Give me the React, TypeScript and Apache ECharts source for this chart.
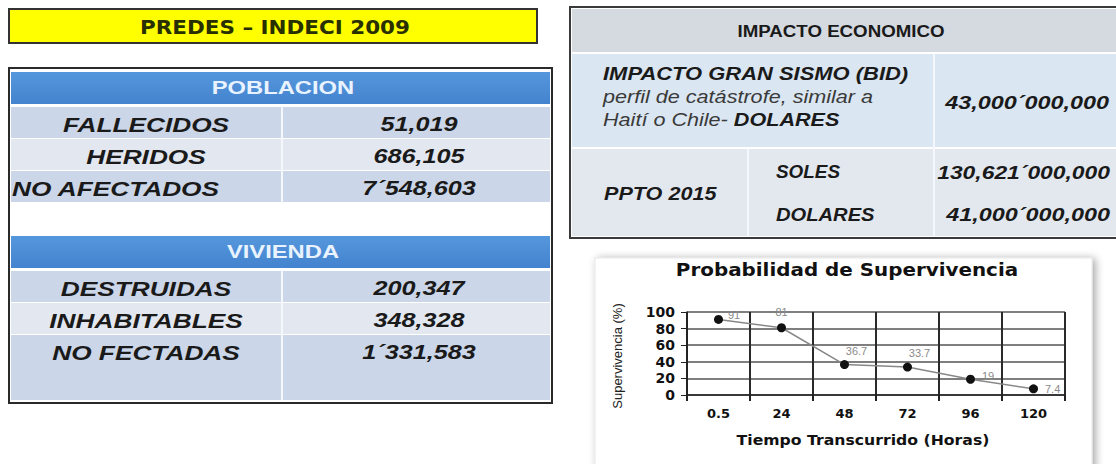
import React, { useEffect, useRef } from "react";
import * as echarts from "echarts";

const mainTitle = "PREDES – INDECI 2009";
const poblacionHeader = "POBLACION";
const poblacionLabels = ["FALLECIDOS", "HERIDOS", "NO AFECTADOS"];
const poblacionValues = ["51,019", "686,105", "7´548,603"];
const viviendaHeader = "VIVIENDA";
const viviendaLabels = ["DESTRUIDAS", "INHABITABLES", "NO FECTADAS"];
const viviendaValues = ["200,347", "348,328", "1´331,583"];

const econHeader = "IMPACTO ECONOMICO";
const econRow1Lines = ["IMPACTO GRAN SISMO (BID)", "perfil de catástrofe, similar a", "Haití o Chile- ", "DOLARES"];
const econRow1Value = "43,000´000,000";
const pptoLabel = "PPTO 2015";
const pptoCurrencies = ["SOLES", "DOLARES"];
const pptoValues = ["130,621´000,000", "41,000´000,000"];

const chartTitle = "Probabilidad de Supervivencia";
const yAxisName = "Supervivencia (%)";
const xAxisName = "Tiempo Transcurrido (Horas)";
const hours = ["0.5", "24", "48", "72", "96", "120"];
const survival = [91, 81, 36.7, 33.7, 19, 7.4];

const ARIAL = "'Liberation Sans', Arial, sans-serif";
const DEJAVU = "'DejaVu Sans', Verdana, sans-serif";

function txt(text: string, x: number, y: number, opts: any = {}) {
  return {
    type: "text",
    x,
    y,
    scaleX: opts.scaleX ?? 1,
    rotation: opts.rotation ?? 0,
    z: 10,
    style: {
      text,
      fill: opts.fill ?? "#1a1a1a",
      fontSize: opts.fontSize ?? 20,
      fontWeight: opts.fontWeight ?? "bold",
      fontStyle: opts.fontStyle ?? "normal",
      fontFamily: opts.fontFamily ?? ARIAL,
      align: opts.align ?? "center",
      verticalAlign: "middle",
    },
  };
}

function rect(x: number, y: number, w: number, h: number, style: any, z = 1) {
  return { type: "rect", shape: { x, y, width: w, height: h }, style, z };
}

function line(x1: number, y1: number, x2: number, y2: number, stroke: string, lw: number, z = 3) {
  return { type: "line", shape: { x1, y1, x2, y2 }, style: { stroke, lineWidth: lw }, z };
}

export default function App() {
  const ref = useRef<HTMLDivElement>(null);

  useEffect(() => {
    if (!ref.current) return;
    const chart = echarts.init(ref.current, null, { renderer: "svg" });

    const dark = "#cbd6e8";
    const light = "#e3e8f0";
    const blue = {
      type: "linear", x: 0, y: 0, x2: 0, y2: 1,
      colorStops: [{ offset: 0, color: "#5597dc" }, { offset: 1, color: "#4383cf" }],
    };
    const g: any[] = [];

    // Yellow title
    g.push(rect(9, 9, 528, 34, { fill: "#ffff00", stroke: "#333", lineWidth: 2 }));
    g.push(txt(mainTitle, 275, 27, { fontFamily: DEJAVU, fontSize: 19, fill: "#283000", scaleX: 1.13 }));

    // Left table
    g.push(rect(9, 68, 543, 335, { fill: "#ffffff", stroke: "#2a2a2a", lineWidth: 2 }));
    const labelStyle = { fontSize: 21, fontStyle: "italic", scaleX: 1.25 };
    const valueStyle = { fontSize: 21, fontStyle: "italic", scaleX: 1.2 };
    const drawSection = (header: string, labels: string[], values: string[], top: number, lastExtra: number) => {
      g.push(rect(11, top, 539, 32, { fill: blue }));
      g.push(txt(header, 283, top + 16, { fill: "#e8f3ff", fontSize: 19, scaleX: 1.25 }));
      labels.forEach((lab, i) => {
        const y = top + 35 + i * 32;
        const h = i === labels.length - 1 ? 31 + lastExtra : 31;
        g.push(rect(11, y, 539, h, { fill: i % 2 === 0 ? dark : light }));
        // the longest label overflows its cell and sits against the left border
        const long = lab.length >= 12 && lab.includes(" ");
        g.push(long
          ? txt(lab, 12, y + 17, { ...labelStyle, align: "left" })
          : txt(lab, 146, y + 17, { ...labelStyle }));
        g.push(txt(values[i], 419, y + 17, { ...valueStyle }));
      });
      const bottom = top + 35 + labels.length * 32 - 1 + lastExtra;
      g.push(line(282, top + 34, 282, bottom, "#f4f7fb", 2));
    };
    drawSection(poblacionHeader, poblacionLabels, poblacionValues, 72, 0);
    drawSection(viviendaHeader, viviendaLabels, viviendaValues, 236, 34);

    // Right table
    g.push(rect(570, 7, 560, 231, { fill: "#ffffff", stroke: "#3a3a3a", lineWidth: 2 }));
    g.push(rect(572, 9, 560, 43, { fill: "#d5d9e0" }));
    g.push(txt(econHeader, 841, 31, { fontSize: 17, scaleX: 1.1 }));
    g.push(rect(572, 54, 560, 93, { fill: "#dae6f1" }));
    g.push(rect(572, 149, 560, 87, { fill: "#e3e8ef" }));
    g.push(line(934, 54, 934, 236, "#f4f7fb", 2));
    g.push(line(748, 149, 748, 236, "#f4f7fb", 2));
    g.push(txt(econRow1Lines[0], 603, 74, { fontSize: 18, fontStyle: "italic", align: "left", scaleX: 1.22 }));
    g.push(txt(econRow1Lines[1], 603, 97, { fontSize: 18, fontStyle: "italic", fontWeight: "normal", align: "left", fill: "#3a3a3a", scaleX: 1.2 }));
    g.push({
      type: "text",
      x: 603,
      y: 120,
      scaleX: 1.2,
      z: 10,
      style: {
        text: `{a|${econRow1Lines[2]}}{b|${econRow1Lines[3]}}`,
        align: "left",
        verticalAlign: "middle",
        rich: {
          a: { fontSize: 18, fontStyle: "italic", fontWeight: "normal", fontFamily: ARIAL, fill: "#3a3a3a", color: "#3a3a3a" },
          b: { fontSize: 18, fontStyle: "italic", fontWeight: "bold", fontFamily: ARIAL, fill: "#1a1a1a", color: "#1a1a1a" },
        },
      },
    });
    g.push(txt(econRow1Value, 1109, 103, { fontSize: 18, fontStyle: "italic", align: "right", scaleX: 1.3 }));
    g.push(txt(pptoLabel, 604, 194, { fontSize: 18, fontStyle: "italic", align: "left", scaleX: 1.2 }));
    g.push(txt(pptoCurrencies[0], 776, 172, { fontSize: 18, fontStyle: "italic", align: "left", scaleX: 1.05 }));
    g.push(txt(pptoCurrencies[1], 776, 215, { fontSize: 18, fontStyle: "italic", align: "left", scaleX: 1.12 }));
    g.push(txt(pptoValues[0], 1110, 172, { fontSize: 18, fontStyle: "italic", align: "right", scaleX: 1.27 }));
    g.push(txt(pptoValues[1], 1110, 215, { fontSize: 18, fontStyle: "italic", align: "right", scaleX: 1.3 }));

    // Chart panel
    g.push({
      type: "rect",
      shape: { x: 595, y: 258, width: 497, height: 212 },
      style: { fill: "#ffffff", stroke: "#e6e6e6", lineWidth: 1, shadowBlur: 8, shadowColor: "rgba(0,0,0,0.35)", shadowOffsetX: 3, shadowOffsetY: 1 },
      z: -10,
    });
    g.push(txt(chartTitle, 847, 270, { fontFamily: DEJAVU, fontSize: 17, fill: "#111", scaleX: 1.17 }));
    g.push(txt(yAxisName, 617, 356, { fontSize: 13, fontWeight: "normal", rotation: Math.PI / 2, fill: "#222" }));
    g.push(txt(xAxisName, 863, 440, { fontFamily: DEJAVU, fontSize: 14, fill: "#111", scaleX: 1.12 }));

    const labelFor = (i: number) => {
      if (i === 0) return { position: "right", offset: [0, -4] };
      if (i === 1) return { position: "top", offset: [0, -1] };
      if (i === 2 || i === 3) return { position: "top", offset: [12, 1] };
      if (i === 4) return { position: "right", offset: [2, -3] };
      return { position: "right", offset: [2, 0] };
    };

    chart.setOption({
      animation: false,
      backgroundColor: "#ffffff",
      graphic: { elements: g },
      grid: { left: 687, right: 51, top: 312, bottom: 69, containLabel: false },
      xAxis: {
        type: "category",
        data: hours,
        boundaryGap: true,
        axisLine: { show: true, lineStyle: { color: "#222", width: 1.5 } },
        axisTick: { show: true, length: 6, lineStyle: { color: "#222", width: 2 } },
        axisLabel: { color: "#111", fontFamily: DEJAVU, fontWeight: "bold", fontSize: 13, margin: 12 },
        splitLine: { show: true, lineStyle: { color: "#2a2a2a", width: 2 } },
      },
      yAxis: {
        type: "value",
        min: 0,
        max: 100,
        interval: 20,
        axisLine: { show: true, lineStyle: { color: "#222", width: 1.5 } },
        axisTick: { show: true, length: 6, lineStyle: { color: "#222" } },
        axisLabel: { color: "#111", fontFamily: DEJAVU, fontWeight: "bold", fontSize: 14, margin: 12 },
        splitLine: { show: true, lineStyle: { color: "#555", width: 1.5 } },
      },
      series: [
        {
          type: "line",
          data: survival.map((v, i) => ({ value: v, label: labelFor(i) })),
          symbol: "circle",
          symbolSize: 9,
          itemStyle: { color: "#111" },
          lineStyle: { color: "#888", width: 1.5 },
          label: { show: true, color: "#8a8a8a", fontSize: 11, fontFamily: ARIAL },
          z: 5,
        },
      ],
    });

    return () => chart.dispose();
  }, []);

  return <div ref={ref} style={{ position: "fixed", left: 0, top: 0, width: 1116, height: 464 }} />;
}
